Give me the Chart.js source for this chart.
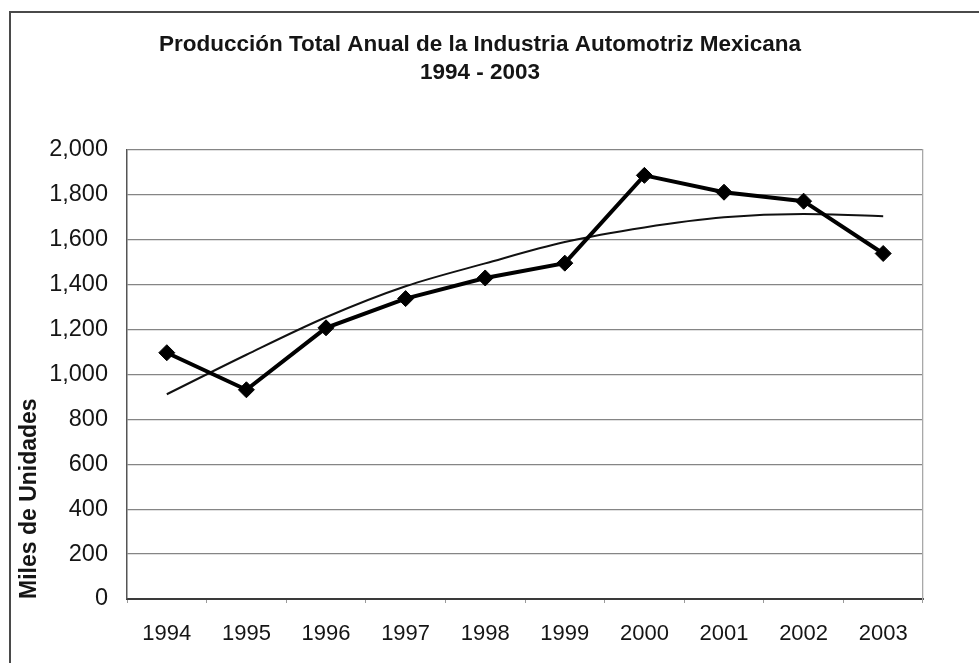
<!DOCTYPE html>
<html>
<head>
<meta charset="utf-8">
<script src="https://cdn.jsdelivr.net/npm/chart.js@4/dist/chart.umd.min.js"></script>
<style>
  html, body { margin: 0; padding: 0; background: #fff; overflow: hidden; }
  #wrap { position: absolute; left: 0; top: 0; width: 960px; height: 663px; }
  #marco { position: absolute; left: 9px; top: 11px; width: 1100px; height: 800px; border: 2px solid #4a4a4a; pointer-events: none; }
</style>
</head>
<body>
<div id="wrap"><canvas id="grafica" width="960" height="663"></canvas></div>
<div id="marco"></div>
<script>
// Producción anual (miles de unidades)
const anios = ['1994', '1995', '1996', '1997', '1998', '1999', '2000', '2001', '2002', '2003'];
const produccion = [1097, 932, 1208, 1338, 1430, 1496, 1887, 1812, 1772, 1539];
// línea de tendencia (polinómica)
const tendencia = [912, 1088, 1255, 1393, 1495, 1590, 1655, 1700, 1715, 1705];
const ticksY = [0, 200, 400, 600, 800, 1000, 1200, 1400, 1600, 1800, 2000];

const FUENTE = "'Liberation Sans', Arial, sans-serif";
const TXT = '#151515';

new Chart(document.getElementById('grafica'), {
  type: 'line',
  data: {
    labels: anios,
    datasets: [
      {
        label: 'Producción',
        data: produccion,
        borderColor: '#000',
        borderWidth: 4,
        pointStyle: 'rectRot',
        pointRadius: 8,
        pointBackgroundColor: '#000',
        pointBorderColor: '#000',
        pointBorderWidth: 1,
        tension: 0,
        order: 1
      },
      {
        label: 'Tendencia',
        data: tendencia,
        borderColor: '#111',
        borderWidth: 2,
        pointRadius: 0,
        cubicInterpolationMode: 'monotone',
        order: 2
      }
    ]
  },
  options: {
    responsive: false,
    animation: false,
    layout: { padding: 0 },
    plugins: {
      legend: { display: false },
      tooltip: { enabled: false },
      title: {
        display: true,
        text: ['Producción Total Anual de la Industria Automotriz Mexicana', '1994 - 2003'],
        color: TXT,
        font: { family: FUENTE, size: 22.5, weight: 'bold', lineHeight: 28 / 22.5 },
        padding: { top: 31, bottom: 63 }
      }
    },
    scales: {
      x: {
        offset: true,
        grid: { drawOnChartArea: false, offset: true, tickLength: 4, color: '#9a9a9a' },
        border: { color: '#3a3a3a', width: 2 },
        ticks: { color: TXT, font: { family: FUENTE, size: 22 }, padding: 18, maxRotation: 0 },
        afterFit: s => { s.height = 64; }
      },
      y: {
        min: 0,
        max: 2000,
        afterBuildTicks: s => { s.ticks = ticksY.map(v => ({ value: v })); },
        grid: { color: '#858585', lineWidth: 1.3, drawTicks: false },
        border: { color: '#555', width: 1.5 },
        ticks: {
          color: TXT,
          font: { family: FUENTE, size: 23.5 },
          padding: 19,
          callback: v => v.toLocaleString('en-US')
        },
        title: {
          display: true,
          text: 'Miles de Unidades',
          align: 'start',
          color: TXT,
          font: { family: FUENTE, size: 23, weight: 'bold' },
          padding: { top: 16, bottom: 0 }
        },
        afterFit: s => { s.width = 127; }
      },
      // eje derecho solo para cerrar el área de trazado
      yDer: {
        position: 'right',
        min: 0,
        max: 2000,
        grid: { display: false },
        ticks: { display: false },
        border: { color: '#a8a8a8', width: 1.3 },
        afterFit: s => { s.width = 37; }
      }
    }
  }
});
</script>
</body>
</html>
